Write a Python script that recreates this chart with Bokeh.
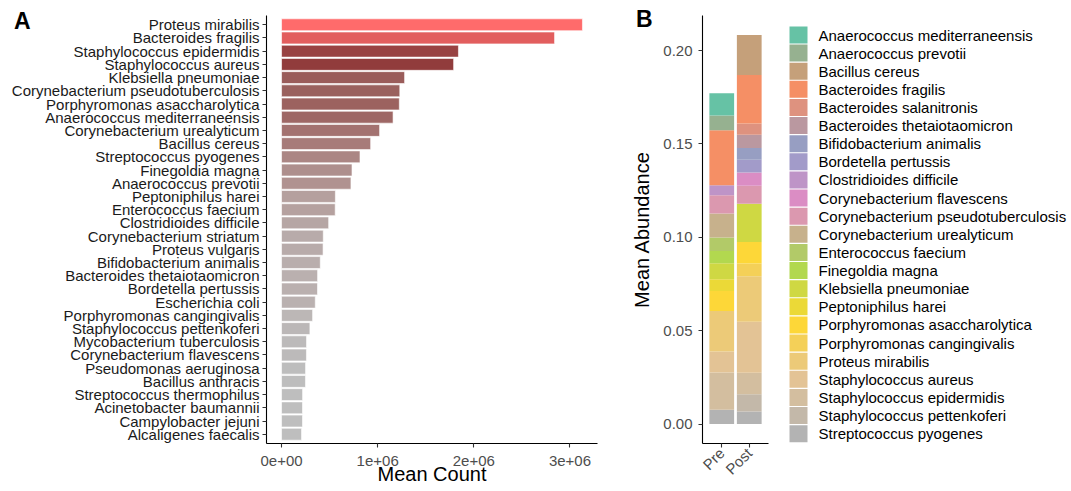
import math
from bokeh.plotting import figure
from bokeh.models import (FactorRange, Range1d, FixedTicker, NumeralTickFormatter,
                          ColumnDataSource, Div)
from bokeh.layouts import row
from bokeh.embed import file_html
from bokeh.resources import INLINE
from bokeh.core.properties import value

# ---------------- Panel A data (top to bottom) ----------------
species_a = [
    "Proteus mirabilis", "Bacteroides fragilis", "Staphylococcus epidermidis",
    "Staphylococcus aureus", "Klebsiella pneumoniae", "Corynebacterium pseudotuberculosis",
    "Porphyromonas asaccharolytica", "Anaerococcus mediterraneensis", "Corynebacterium urealyticum",
    "Bacillus cereus", "Streptococcus pyogenes", "Finegoldia magna", "Anaerococcus prevotii",
    "Peptoniphilus harei", "Enterococcus faecium", "Clostridioides difficile",
    "Corynebacterium striatum", "Proteus vulgaris", "Bifidobacterium animalis",
    "Bacteroides thetaiotaomicron", "Bordetella pertussis", "Escherichia coli",
    "Porphyromonas cangingivalis", "Staphylococcus pettenkoferi", "Mycobacterium tuberculosis",
    "Corynebacterium flavescens", "Pseudomonas aeruginosa", "Bacillus anthracis",
    "Streptococcus thermophilus", "Acinetobacter baumannii", "Campylobacter jejuni",
    "Alcaligenes faecalis",
]
mean_count = [
    3.13e6, 2.84e6, 1.84e6, 1.79e6, 1.28e6, 1.23e6, 1.225e6, 1.16e6, 1.02e6,
    0.927e6, 0.816e6, 0.733e6, 0.722e6, 0.560e6, 0.558e6, 0.490e6, 0.434e6,
    0.432e6, 0.403e6, 0.375e6, 0.374e6, 0.351e6, 0.323e6, 0.295e6, 0.260e6,
    0.259e6, 0.250e6, 0.249e6, 0.219e6, 0.218e6, 0.218e6, 0.208e6,
]
x_tick_values = [0, 1e6, 2e6, 3e6]
x_tick_labels = ["0e+00", "1e+06", "2e+06", "3e+06"]

# bar fill colours (style), same order as species_a
bar_colors = [
    "#FF6B6B", "#E25E5E", "#984242", "#913C3C", "#9A5C5A", "#9A615E", "#9C625F",
    "#9E6765", "#A37270", "#A77B79", "#AB8684", "#AE8F8D", "#B09290", "#B5A09E",
    "#B5A19F", "#B6A6A4", "#B8ABAA", "#B8ABAA", "#B9AEAD", "#BAB0AF", "#BAB0AF",
    "#BAB1B0", "#BCB7B6", "#BBB7B7", "#BCBABA", "#BCBABA", "#BDBDBD", "#BDBDBD",
    "#BEBEBE", "#BEBEBE", "#BEBEBE", "#BEBEBE",
]

# ---------------- Panel B data (legend order, top of stack first) ----------------
groups = ["Pre", "Post"]
species_b = [
    "Anaerococcus mediterraneensis", "Anaerococcus prevotii", "Bacillus cereus",
    "Bacteroides fragilis", "Bacteroides salanitronis", "Bacteroides thetaiotaomicron",
    "Bifidobacterium animalis", "Bordetella pertussis", "Clostridioides difficile",
    "Corynebacterium flavescens", "Corynebacterium pseudotuberculosis",
    "Corynebacterium urealyticum", "Enterococcus faecium", "Finegoldia magna",
    "Klebsiella pneumoniae", "Peptoniphilus harei", "Porphyromonas asaccharolytica",
    "Porphyromonas cangingivalis", "Proteus mirabilis", "Staphylococcus aureus",
    "Staphylococcus epidermidis", "Staphylococcus pettenkoferi", "Streptococcus pyogenes",
]
pre_abundance = [
    0.0119, 0.0080, 0.0, 0.0294, 0.0, 0.0, 0.0, 0.0, 0.0053, 0.0, 0.0098, 0.0129,
    0.0072, 0.0066, 0.0086, 0.0063, 0.0107, 0.0, 0.0217, 0.0112, 0.0199, 0.0, 0.0077,
]
post_abundance = [
    0.0, 0.0, 0.0214, 0.0260, 0.0060, 0.0071, 0.0064, 0.0068, 0.0, 0.0071, 0.0096, 0.0,
    0.0, 0.0, 0.0205, 0.0, 0.0115, 0.0068, 0.0244, 0.0273, 0.0115, 0.0093, 0.0067,
]
y_tick_values = [0.0, 0.05, 0.10, 0.15, 0.20]

# palette (style): Set2 ramp, one colour per species_b
palette_b = [
    "#66C2A5", "#96B190", "#C5A07A", "#F58F65", "#DE927F", "#BA98A0", "#979EC2",
    "#A29BC9", "#BE94C7", "#DB8DC4", "#DB98AF", "#C7B18C", "#B2CA68", "#B2D84F",
    "#CFD843", "#EBD937", "#FDD738", "#F4D058", "#ECCA78", "#E3C395", "#D3BE9F",
    "#C3B8A9", "#B3B3B3",
]

panel_tags = ["A", "B"]

FONT = "Liberation Sans"
H = 491
TOP, BOTTOM = 15, 48


def style_axes(p):
    p.xgrid.visible = False
    p.ygrid.visible = False
    p.outline_line_color = None
    for ax in (p.xaxis[0], p.yaxis[0]):
        ax.axis_line_color = "black"
        ax.axis_line_width = 1.1
        ax.major_tick_line_color = "#333333"
        ax.major_tick_line_width = 1.1
        ax.major_tick_out = 4
        ax.major_tick_in = 0
        ax.minor_tick_line_color = None
        ax.major_label_text_font = FONT
        ax.major_label_text_font_size = "15px"
        ax.major_label_text_color = "#4D4D4D"
        ax.axis_label_text_font = FONT
        ax.axis_label_text_font_size = "20px"
        ax.axis_label_text_font_style = "normal"
        ax.axis_label_text_color = "black"


# ---------------- Panel A ----------------
xmax = max(mean_count)
fa = figure(
    width=628, height=H,
    y_range=FactorRange(factors=species_a[::-1], range_padding=0.2,
                        range_padding_units="absolute"),
    x_range=Range1d(-0.05 * xmax, 1.05 * xmax),
    output_backend="svg", toolbar_location=None,
    min_border_left=266, min_border_right=31, min_border_top=TOP, min_border_bottom=BOTTOM,
)
src_a = ColumnDataSource(dict(species=species_a, count=mean_count, color=bar_colors))
fa.hbar(y="species", left=0, right="count", height=0.9, fill_color="color",
        line_color="white", line_width=0.6, source=src_a)
style_axes(fa)
fa.xaxis.ticker = FixedTicker(ticks=x_tick_values)
fa.xaxis.major_label_overrides = {v: s for v, s in zip(x_tick_values, x_tick_labels)}
fa.xaxis.axis_label = "Mean Count"
fa.xaxis.major_label_standoff = 8
fa.xaxis.axis_label_standoff = -6
fa.yaxis.major_label_text_color = "#1A1A1A"
fa.yaxis.major_label_standoff = 3

# ---------------- Panel B ----------------
totals = [sum(pre_abundance), sum(post_abundance)]
ymax = max(totals)
fb = figure(
    width=147, height=H,
    x_range=FactorRange(factors=groups, range_padding=0.2, range_padding_units="absolute"),
    y_range=Range1d(-0.05 * ymax, 1.05 * ymax),
    output_backend="svg", toolbar_location=None,
    min_border_left=73, min_border_right=7, min_border_top=TOP, min_border_bottom=BOTTOM,
)
data_b = {"group": groups}
for sp, a, b in zip(species_b, pre_abundance, post_abundance):
    data_b[sp] = [a, b]
src_b = ColumnDataSource(data_b)
fb.vbar_stack(stackers=species_b[::-1], x="group", width=0.9,
              fill_color=palette_b[::-1], line_color=None, source=src_b)
style_axes(fb)
fb.yaxis.ticker = FixedTicker(ticks=y_tick_values)
fb.yaxis.formatter = NumeralTickFormatter(format="0.00")
fb.yaxis.axis_label = "Mean Abundance"
fb.yaxis.major_label_standoff = 6
fb.yaxis.axis_label_standoff = 7
fb.xaxis.major_label_orientation = math.pi / 4
fb.xaxis.major_label_standoff = 3

# ---------------- Legend panel ----------------
n = len(species_b)
LW = 1071 - 628 - 147
y0, dy = 34.5, 18.12          # first row centre and row pitch (px)
ftop, fbot = TOP, H - BOTTOM
fl = figure(
    width=LW, height=H,
    x_range=Range1d(0, LW), y_range=Range1d((fbot - y0) / dy, (ftop - y0) / dy),
    x_axis_location=None, y_axis_location=None,
    output_backend="svg", toolbar_location=None,
    min_border_left=0, min_border_right=0, min_border_top=TOP, min_border_bottom=BOTTOM,
)
fl.xgrid.visible = False
fl.ygrid.visible = False
fl.outline_line_color = None
src_l = ColumnDataSource(dict(idx=list(range(n)), name=species_b, color=palette_b))
fl.rect(x=23, y="idx", width=18, height=17, width_units="screen", height_units="screen",
        fill_color="color", line_color=None, source=src_l)
fl.text(x=43, y="idx", text="name", text_font=value(FONT), text_font_size="15px",
        text_baseline="middle", text_align="left", text_color="black", source=src_l)


# ---------------- panel tags (A / B) ----------------
def tag(text, left, top):
    return Div(text=text, width=30, height=30, styles={
        "position": "absolute", "left": f"{left}px", "top": f"{top}px",
        "font-family": FONT, "font-size": "23px", "font-weight": "bold",
        "line-height": "23px", "color": "black", "margin": "0", "padding": "0",
    })


tag_a = tag(panel_tags[0], 14, 10)
tag_b = tag(panel_tags[1], 636, 8)

layout = row(fa, fb, fl, tag_a, tag_b)
open("out.html", "w").write(file_html(layout, INLINE))
